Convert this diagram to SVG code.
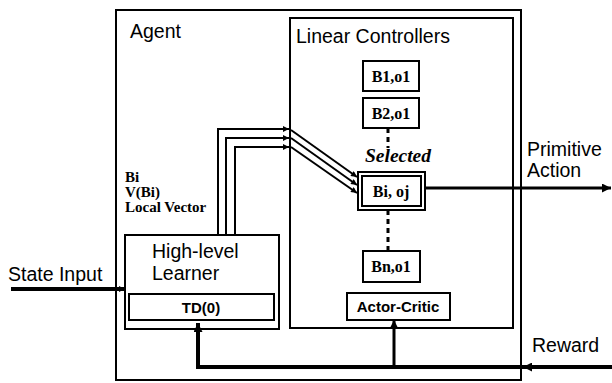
<svg xmlns="http://www.w3.org/2000/svg" width="612" height="383" viewBox="0 0 612 383">
<style>
.box{fill:#fff;stroke:#000;stroke-width:2}
.sans{font-family:"Liberation Sans",Arial,sans-serif;font-size:19.5px;fill:#000}
.sansb{font-family:"Liberation Sans",Arial,sans-serif;font-size:15px;font-weight:bold;fill:#000}
.serb{font-family:"Liberation Serif","Times New Roman",serif;font-size:16px;font-weight:bold;fill:#000}
.thin{fill:none;stroke:#000;stroke-width:2}
.thick{fill:none;stroke:#000;stroke-width:4}
.med{fill:none;stroke:#000;stroke-width:3}
.dots{fill:none;stroke:#000;stroke-width:3;stroke-dasharray:5 4}
</style>
<defs>
<marker id="ah" markerUnits="userSpaceOnUse" viewBox="0 0 10 10" refX="10" refY="5" markerWidth="9" markerHeight="6" orient="auto">
<path d="M0,0 L10,5 L0,10 z" fill="#000"/>
</marker>
<marker id="ahb" markerUnits="userSpaceOnUse" viewBox="0 0 10 10" refX="10" refY="5" markerWidth="12" markerHeight="9" orient="auto">
<path d="M0,0 L10,5 L0,10 z" fill="#000"/>
</marker>
</defs>
<rect width="612" height="383" fill="#fff"/>
<g id="agent">
<rect class="box" x="116" y="10" width="405" height="370"/>
<text class="sans" x="130" y="38">Agent</text>
</g>
<g id="linear-controllers">
<rect class="box" x="290" y="18" width="223" height="310"/>
<text class="sans" x="296" y="43">Linear Controllers</text>
</g>
<g id="b1">
<rect class="box" x="363" y="61" width="56" height="30"/>
<text class="serb" x="391" y="82" text-anchor="middle">B1,o1</text>
</g>
<g id="b2">
<rect class="box" x="363" y="98" width="56" height="30"/>
<text class="serb" x="391" y="119" text-anchor="middle">B2,o1</text>
</g>
<g id="selected-label">
<text x="398" y="162" text-anchor="middle" style="font-family:'Liberation Serif','Times New Roman',serif;font-size:19.5px;font-weight:bold;font-style:italic">Selected</text>
</g>
<g id="bi">
<rect class="box" x="358" y="172" width="67" height="38"/>
<rect class="box" x="362" y="176" width="59" height="30"/>
<text class="serb" x="391" y="197" text-anchor="middle">Bi, oj</text>
</g>
<g id="bn">
<rect class="box" x="363" y="251" width="57" height="31"/>
<text class="serb" x="391" y="272" text-anchor="middle">Bn,o1</text>
</g>
<g id="actor-critic">
<rect class="box" x="347" y="293" width="103" height="27"/>
<text class="sansb" x="398" y="312" text-anchor="middle">Actor-Critic</text>
</g>
<g id="high-level-learner">
<rect class="box" x="125" y="235" width="154" height="94"/>
<text class="sans" x="152" y="258">High-level</text>
<text class="sans" x="152" y="280">Learner</text>
</g>
<g id="td0">
<rect class="box" x="129" y="294" width="145" height="26"/>
<text class="sansb" x="201" y="313" text-anchor="middle">TD(0)</text>
</g>
<g id="labels">
<text class="serb" x="125" y="182" style="font-size:15px">Bi</text>
<text class="serb" x="125" y="197" style="font-size:15px">V(Bi)</text>
<text class="serb" x="125" y="212" style="font-size:15px">Local Vector</text>
<text class="sans" x="8" y="281">State Input</text>
<text class="sans" x="527" y="156">Primitive</text>
<text class="sans" x="527" y="177">Action</text>
<text class="sans" x="532" y="352">Reward</text>
</g>
<g id="connectors">
<path class="dots" d="M388,128 V148"/>
<path class="dots" d="M388,210 V250"/>
<path class="thin" d="M218,235 V129 H289" marker-end="url(#ah)"/>
<path class="thin" d="M226,235 V138 H289" marker-end="url(#ah)"/>
<path class="thin" d="M235,235 V147 H289" marker-end="url(#ah)"/>
<path class="thin" d="M291,130 L357,177" marker-end="url(#ah)"/>
<path class="thin" d="M291,138 L357,185" marker-end="url(#ah)"/>
<path class="thin" d="M291,147 L357,193" marker-end="url(#ah)"/>
<path class="thick" d="M11,289 H125" marker-end="url(#ah)"/>
<path class="med" d="M425,188 H611" marker-end="url(#ahb)"/>
<path class="thick" d="M612,367 H523" marker-end="url(#ahb)"/>
<path class="thick" d="M523,367 H198 V323" marker-end="url(#ahb)"/>
<path class="med" d="M394,367 V320" marker-end="url(#ahb)"/>
</g>
</svg>
